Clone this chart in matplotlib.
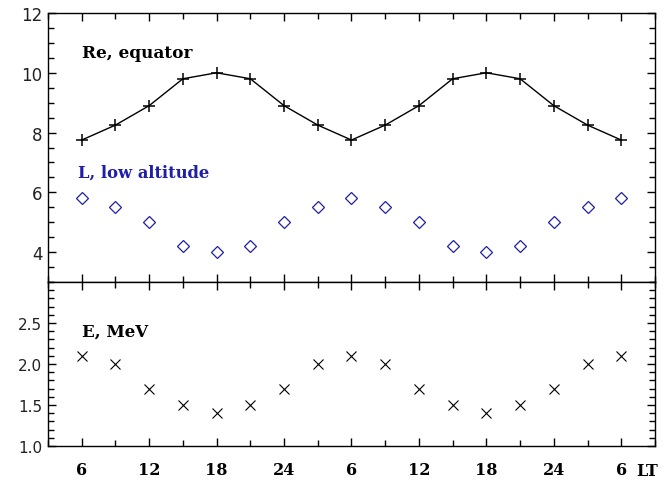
import matplotlib.pyplot as plt
from matplotlib.ticker import MultipleLocator

# local time, hours (every 3 h over two days)
lt = [6, 9, 12, 15, 18, 21, 24, 27, 30, 33, 36, 39, 42, 45, 48, 51, 54]

re_equator = [7.75, 8.25, 8.9, 9.8, 10.0, 9.8, 8.9, 8.25, 7.75,
              8.25, 8.9, 9.8, 10.0, 9.8, 8.9, 8.25, 7.75]
l_low_alt = [5.8, 5.5, 5.0, 4.2, 4.0, 4.2, 5.0, 5.5, 5.8,
             5.5, 5.0, 4.2, 4.0, 4.2, 5.0, 5.5, 5.8]
e_mev = [2.1, 2.0, 1.7, 1.5, 1.4, 1.5, 1.7, 2.0, 2.1,
         2.0, 1.7, 1.5, 1.4, 1.5, 1.7, 2.0, 2.1]

xtick_pos = [6, 12, 18, 24, 30, 36, 42, 48, 54]
xtick_labels = ['6', '12', '18', '24', '6', '12', '18', '24', '6']

blue = '#1f1fa8'
serif_bold = dict(family='DejaVu Serif', weight='bold')

fig = plt.figure(figsize=(6.64, 4.81), dpi=100)
ax1 = fig.add_axes([0.0723, 0.4116, 0.9141, 0.5593])
ax2 = fig.add_axes([0.0723, 0.0707, 0.9141, 0.3409])

ax1.plot(lt, re_equator, color='black', lw=1, marker='+', ms=8, mew=1.1)
ax1.plot(lt, l_low_alt, ls='none', marker='D', ms=6.5, mfc='none',
         mec=blue, mew=0.9)
ax2.plot(lt, e_mev, ls='none', marker='x', ms=7.5, mec='black', mew=0.8)

ax1.set_ylim(3, 12)
ax1.set_yticks([4, 6, 8, 10, 12])
ax1.yaxis.set_minor_locator(MultipleLocator(0.5))
ax2.set_ylim(1.0, 3.0)
ax2.set_yticks([1.0, 1.5, 2.0, 2.5])
ax2.set_yticklabels(['1.0', '1.5', '2.0', '2.5'])
ax2.yaxis.set_minor_locator(MultipleLocator(0.1))

for ax in (ax1, ax2):
    ax.set_xlim(3, 57)
    ax.set_xticks(xtick_pos)
    ax.xaxis.set_minor_locator(MultipleLocator(3))
    ax.tick_params(which='both', direction='in', top=True, right=True,
                   width=1, color='black')
    ax.tick_params(which='major', length=6)
    ax.tick_params(which='minor', length=4)
    ax.tick_params(axis='y', pad=4, labelcolor='#222222')
    for s in ax.spines.values():
        s.set_linewidth(1)

ax1.tick_params(axis='y', labelsize=12)
ax1.set_xticklabels([])
ax2.tick_params(axis='y', labelsize=11)
ax2.set_xticklabels(xtick_labels, fontsize=11.5, **serif_bold)
ax2.tick_params(axis='x', pad=11)

ax1.text(0.056, 0.855, 'Re, equator', transform=ax1.transAxes,
         fontsize=12.2, va='center', color='black', **serif_bold)
ax1.text(0.049, 0.409, 'L, low altitude', transform=ax1.transAxes,
         fontsize=11.8, va='center', color=blue, **serif_bold)
ax2.text(0.056, 0.70, 'E, MeV', transform=ax2.transAxes,
         fontsize=12, va='center', color='black', **serif_bold)
fig.text(0.958, 0.020, 'LT', fontsize=11.5, va='center', **serif_bold)

fig.savefig('out.png', dpi=100)
